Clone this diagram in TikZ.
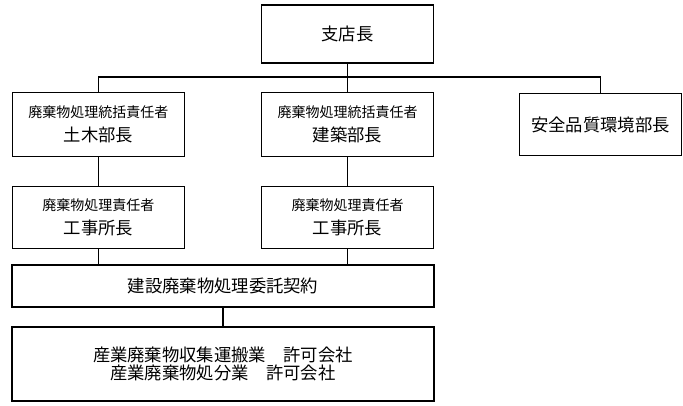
\documentclass[tikz,border=0pt]{standalone}
\usepackage{fontspec}
\setmainfont{Noto Sans CJK JP}
\newcommand{\smtxt}{\fontsize{10.5}{12}\selectfont}
\newcommand{\lgtxt}{\fontsize{13}{16}\selectfont}
\begin{document}
\begin{tikzpicture}[x=0.75pt, y=-0.75pt, line width=0.9pt,
    main/.style = {draw, rectangle, align=center, minimum width=129pt, minimum height=48pt, inner sep=0pt}]
    \useasboundingbox (0,0) rectangle (683,405);
    \node[main, minimum height=43.5pt] (1) at (347.5,34) {\lgtxt 支店長};
    \node[main] (2) at (98.5,124.5) {\smtxt 廃棄物処理統括責任者\\[6pt]\lgtxt 土木部長};
    \node[main] (3) at (347.5,124.5) {\smtxt 廃棄物処理統括責任者\\[6pt]\lgtxt 建築部長};
    \node[main, minimum width=121pt, minimum height=47pt] (4) at (600.5,124.5) {\lgtxt 安全品質環境部長};
    \node[main, minimum height=47pt] (5) at (98.5,217.5) {\smtxt 廃棄物処理責任者\\[6pt]\lgtxt 工事所長};
    \node[main, minimum height=47pt] (6) at (347.5,217.5) {\smtxt 廃棄物処理責任者\\[6pt]\lgtxt 工事所長};
    \node[main, minimum width=316.5pt, minimum height=31.5pt] (7) at (223,286) {\lgtxt 建設廃棄物処理委託契約};
    \node[main, minimum width=316.5pt, minimum height=55.5pt] (8) at (223,364) {\lgtxt 産業廃棄物収集運搬業　許可会社\\\lgtxt 産業廃棄物処分業　許可会社};
    \coordinate (bus) at (347.5,77);
    \draw (1) -- (3);
    \draw (2) |- (bus) -| (4);
    \draw (2) -- (5);
    \draw (3) -- (6);
    \draw (5) -- (5 |- 7.north);
    \draw (6) -- (6 |- 7.north);
    \draw (7) -- (8);
\end{tikzpicture}
\end{document}
